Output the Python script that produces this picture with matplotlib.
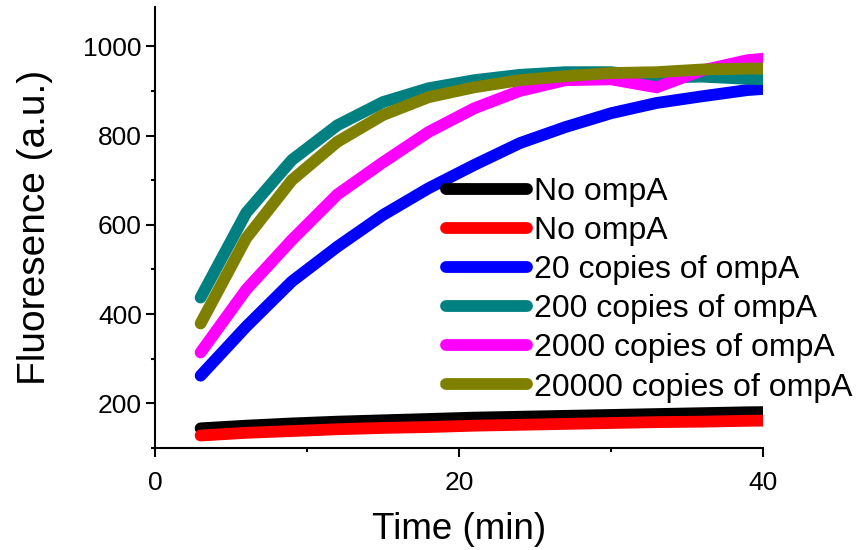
import matplotlib
matplotlib.use('Agg')
import matplotlib.pyplot as plt
from matplotlib.ticker import MultipleLocator

plt.rcParams['font.family'] = ['Liberation Sans', 'DejaVu Sans']

# time points (min)
time = [3, 6, 9, 12, 15, 18, 21, 24, 27, 30, 33, 36, 39, 42]

# fluorescence series (a.u.)
no_ompa_1 = [144, 150, 155, 159, 162, 165, 168, 170, 172, 174, 176, 178, 180, 181]
no_ompa_2 = [128, 134, 138, 142, 145, 147, 150, 152, 154, 156, 158, 159, 161, 162]
copies_20 = [262, 372, 473, 551, 622, 682, 734, 783, 819, 850, 873, 888, 902, 909]
copies_200 = [437, 627, 745, 823, 875, 906, 924, 936, 942, 942, 930, 932, 927, 925]
copies_2000 = [314, 455, 566, 668, 740, 808, 861, 900, 924, 926, 908, 946, 969, 978]
copies_20000 = [379, 570, 700, 786, 846, 886, 908, 924, 933, 940, 942, 948, 950, 950]

labels = ['No ompA', 'No ompA', '20 copies of ompA', '200 copies of ompA',
          '2000 copies of ompA', '20000 copies of ompA']
colors = ['black', 'red', '#0000ff', '#008080', '#ff00ff', '#808000']
series = [no_ompa_1, no_ompa_2, copies_20, copies_200, copies_2000, copies_20000]

fig = plt.figure(figsize=(8.58, 5.5), dpi=100)
ax = fig.add_axes([155 / 858, 1 - 448 / 550, 608 / 858, 441 / 550])

for y, c, lab in zip(series, colors, labels):
    ax.plot(time, y, color=c, lw=8.5, label=lab,
            solid_capstyle='round', solid_joinstyle='round')

ax.set_xlim(0, 40)
ax.set_ylim(100, 1088)
ax.xaxis.set_major_locator(MultipleLocator(20))
ax.xaxis.set_minor_locator(MultipleLocator(10))
ax.yaxis.set_major_locator(MultipleLocator(200))
ax.yaxis.set_minor_locator(MultipleLocator(100))

for s in ['top', 'right']:
    ax.spines[s].set_visible(False)
for s in ['left', 'bottom']:
    ax.spines[s].set_linewidth(1.5)

ax.tick_params(which='major', length=6.5, width=1.5, labelsize=19)
ax.tick_params(axis='y', which='major', pad=3)
ax.tick_params(axis='x', which='major', pad=10)
ax.tick_params(which='minor', length=3, width=1.5)

ax.set_xlabel('Time (min)', fontsize=26.5, labelpad=12)
ax.set_ylabel('Fluoresence (a.u.)', fontsize=28, labelpad=22)

leg = ax.legend(loc='upper left', bbox_to_anchor=(446 / 858, 1 - 177 / 550),
                bbox_transform=fig.transFigure, frameon=False, fontsize=23,
                handlelength=2.55, handletextpad=0.2, labelspacing=0.285,
                borderpad=0, borderaxespad=0)
for line in leg.get_lines():
    line.set_linewidth(8.5)
    line.set_solid_capstyle('round')

fig.savefig('out.png', dpi=100)
